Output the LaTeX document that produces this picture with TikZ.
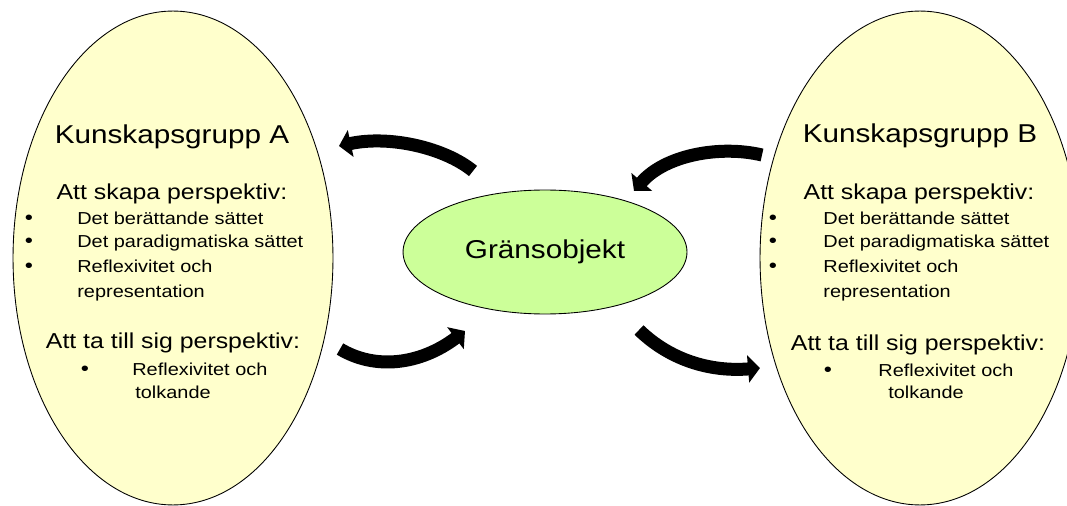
\documentclass[tikz,border=0pt]{standalone}
\usepackage{fontspec}
\setmainfont{Liberation Sans}[FakeStretch=1.15]
\usetikzlibrary{shapes.geometric,arrows.meta}
\definecolor{paleyellow}{HTML}{FFFFCC}
\definecolor{palegreen}{HTML}{CCFF99}
\begin{document}
\begin{tikzpicture}[x=0.02cm,y=-0.02cm,
  group/.style={ellipse,draw=black,line width=0.5pt,fill=paleyellow,
    minimum width=6.4cm,minimum height=9.88cm,inner sep=0pt},
  bobj/.style={ellipse,draw=black,line width=0.5pt,fill=palegreen,
    minimum width=5.68cm,minimum height=2.48cm,inner sep=0pt,
    font=\fontsize{14.7}{17}\selectfont},
  headline/.style={anchor=base,inner sep=0pt,font=\fontsize{14.7}{17}\selectfont},
  subline/.style={anchor=base,inner sep=0pt,font=\fontsize{12.3}{14.5}\selectfont},
  itemline/.style={anchor=base west,inner sep=0pt,font=\fontsize{9.86}{12}\selectfont},
  bulletdot/.style={anchor=base,inner sep=0pt,font=\fontsize{11.5}{12}\selectfont},
  flow/.style={line width=7.4pt,-{Triangle[length=6.8pt,width=15.3pt]}}]
\useasboundingbox (0,0) rectangle (1067,506);
\clip (0,0) rectangle (1067,506);

% knowledge groups and the boundary object
\node[group] (gA) at (173,258) {};
\node[group] (gB) at (920,258) {};
\node[bobj] (obj) at (545,252) {Gränsobjekt};

% group A text
\node[headline] (tA) at (172,144) {Kunskapsgrupp A};
\node[subline] (sA1) at (172,200) {Att skapa perspektiv:};
\node[bulletdot] (dA1) at (29,225) {•};
\node[bulletdot] (dA2) at (29,248) {•};
\node[bulletdot] (dA3) at (29,273) {•};
\node[itemline] (iA1) at (77,225) {Det berättande sättet};
\node[itemline] (iA2) at (77,248) {Det paradigmatiska sättet};
\node[itemline] (iA3) at (77,273) {Reflexivitet och};
\node[itemline] (iA4) at (77,297) {representation};
\node[subline] (sA2) at (173,348) {Att ta till sig perspektiv:};
\node[bulletdot] (dA4) at (85,375) {•};
\node[itemline] (iA5) at (132,375) {Reflexivitet och};
\node[itemline] (iA6) at (135,398) {tolkande};

% group B text
\node[headline] (tB) at (920,143) {Kunskapsgrupp B};
\node[subline] (sB1) at (919,200) {Att skapa perspektiv:};
\node[bulletdot] (dB1) at (773,225) {•};
\node[bulletdot] (dB2) at (773,248) {•};
\node[bulletdot] (dB3) at (773,273) {•};
\node[itemline] (iB1) at (823,225) {Det berättande sättet};
\node[itemline] (iB2) at (823,248) {Det paradigmatiska sättet};
\node[itemline] (iB3) at (823,273) {Reflexivitet och};
\node[itemline] (iB4) at (823,297) {representation};
\node[subline] (sB2) at (918,350) {Att ta till sig perspektiv:};
\node[bulletdot] (dB4) at (828,376) {•};
\node[itemline] (iB5) at (878,376) {Reflexivitet och};
\node[itemline] (iB6) at (888,398) {tolkande};

% curved exchange arrows
\coordinate (a1s) at (473,171);
\coordinate (a1e) at (339,146);
\coordinate (a2s) at (340,349);
\coordinate (a2e) at (465,331);
\coordinate (a3s) at (762,155);
\coordinate (a3e) at (634,191);
\coordinate (a4s) at (639,330);
\coordinate (a4e) at (760,368);

\draw[flow] (a1s) .. controls (445,148) and (390,135) .. (a1e);
\draw[flow] (a2s) .. controls (375,370) and (420,365) .. (a2e);
\draw[flow] (a3s) .. controls (720,145) and (665,155) .. (a3e);
\draw[flow] (a4s) .. controls (670,360) and (710,372) .. (a4e);
\end{tikzpicture}
\end{document}
